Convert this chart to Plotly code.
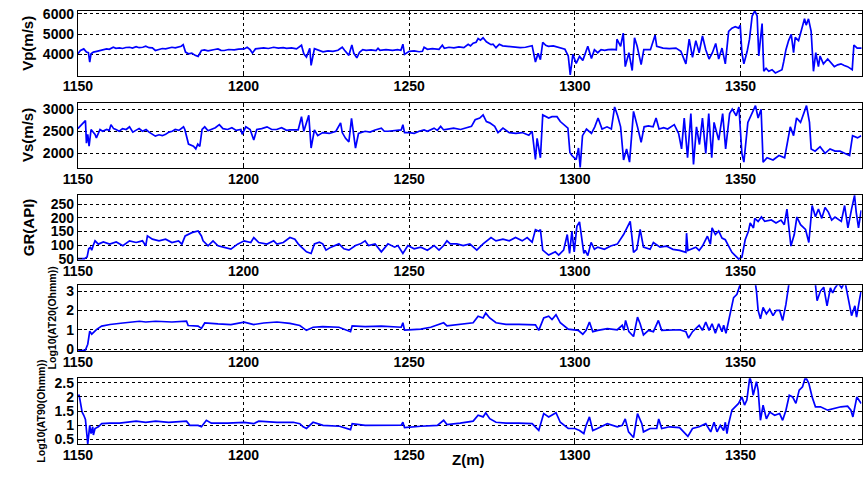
import plotly.graph_objects as go

# ---- well-log curves as (depth m, value) pairs ----
vp_log = [
    (1150.0, 4030), (1150.8, 4190), (1151.8, 4270), (1152.6, 4110), (1153.2, 4080), (1153.6, 3620),
    (1154.0, 4030), (1154.7, 4110), (1155.7, 4150), (1156.7, 4190), (1157.5, 4230), (1158.7, 4270),
    (1159.5, 4250), (1160.7, 4350), (1161.5, 4300), (1162.6, 4320), (1163.5, 4290), (1164.5, 4340),
    (1165.6, 4350), (1166.5, 4310), (1167.6, 4380), (1168.5, 4330), (1169.6, 4350), (1170.5, 4400),
    (1171.5, 4330), (1172.5, 4320), (1173.4, 4190), (1174.5, 4230), (1175.5, 4290), (1176.5, 4270),
    (1177.5, 4320), (1178.4, 4350), (1179.4, 4320), (1180.4, 4380), (1181.2, 4400), (1181.8, 4480),
    (1182.5, 4110), (1183.4, 4030), (1184.4, 4060), (1185.4, 3950), (1186.3, 3900), (1187.3, 4190),
    (1188.2, 4220), (1189.3, 4170), (1190.4, 4190), (1191.3, 4240), (1192.3, 4270), (1193.2, 4200),
    (1194.2, 4190), (1195.5, 4240), (1197.2, 4220), (1198.5, 4260), (1200.2, 4270), (1201.1, 4350),
    (1202.0, 4230), (1202.7, 4060), (1203.6, 4270), (1204.8, 4300), (1206.1, 4320), (1207.5, 4290),
    (1209.1, 4350), (1210.5, 4310), (1212.0, 4330), (1213.0, 4300), (1214.5, 4320), (1216.0, 4270),
    (1217.5, 4450), (1218.2, 4030), (1219.0, 3870), (1220.0, 4300), (1220.4, 3450), (1221.4, 4280),
    (1222.5, 4200), (1224.0, 4120), (1225.5, 4170), (1227.0, 4150), (1228.5, 4200), (1229.8, 4350),
    (1230.5, 4200), (1231.8, 3950), (1232.7, 4470), (1233.3, 4050), (1234.2, 3830), (1235.0, 4100),
    (1236.0, 4230), (1237.0, 4200), (1238.5, 4220), (1240.0, 4190), (1240.6, 4300), (1241.2, 4200),
    (1243.0, 4230), (1245.0, 4200), (1246.5, 4230), (1247.5, 4200), (1248.1, 4500), (1248.6, 4000),
    (1250.0, 4150), (1251.5, 4170), (1253.0, 4130), (1254.0, 4150), (1254.5, 4350), (1255.5, 4250),
    (1257.0, 4280), (1259.0, 4250), (1260.0, 4450), (1260.6, 4300), (1262.0, 4350), (1263.5, 4320),
    (1265.0, 4370), (1266.5, 4330), (1267.8, 4500), (1268.5, 4420), (1269.3, 4550), (1270.2, 4600),
    (1270.8, 4780), (1271.5, 4700), (1272.3, 4820), (1273.3, 4620), (1274.7, 4480), (1275.3, 4500),
    (1276.2, 4330), (1277.2, 4500), (1278.2, 4420), (1279.2, 4400), (1280.5, 4380), (1282.1, 4350),
    (1283.5, 4330), (1285.1, 4350), (1287.1, 4430), (1288.1, 3620), (1288.9, 4050), (1289.6, 3740),
    (1290.3, 4600), (1291.2, 4450), (1292.0, 4400), (1293.5, 4420), (1295.0, 4350), (1296.0, 4320),
    (1297.0, 4250), (1298.0, 3920), (1298.6, 2980), (1299.4, 4000), (1300.4, 3550), (1301.4, 3900),
    (1302.4, 3700), (1303.9, 4400), (1305.0, 3800), (1305.9, 4230), (1306.9, 4080), (1307.9, 4230),
    (1309.0, 4200), (1310.0, 4230), (1311.2, 4250), (1312.5, 4230), (1312.7, 4750), (1313.8, 4400),
    (1314.6, 5050), (1315.2, 3390), (1316.3, 4080), (1317.3, 3200), (1318.0, 4820), (1318.8, 4400),
    (1320.0, 3490), (1320.8, 4230), (1322.8, 4230), (1324.2, 4950), (1324.7, 4400), (1326.6, 4310),
    (1328.5, 4280), (1330.5, 4310), (1332.0, 4150), (1333.5, 3530), (1334.5, 4750), (1335.5, 3850),
    (1336.5, 4680), (1337.5, 4080), (1338.5, 4910), (1339.5, 4230), (1340.5, 3770), (1341.5, 4080),
    (1342.5, 4540), (1343.4, 3770), (1344.4, 4310), (1345.4, 3530), (1346.4, 5140), (1347.4, 5300),
    (1348.4, 5370), (1349.4, 5300), (1349.9, 5450), (1350.4, 4080), (1351.0, 3530), (1352.0, 4150),
    (1352.7, 4750), (1353.5, 5900), (1354.3, 6150), (1355.0, 5900), (1355.5, 3920), (1356.0, 4750),
    (1356.5, 5530), (1357.0, 3160), (1357.7, 3310), (1358.5, 3160), (1359.5, 3240), (1360.5, 3080),
    (1361.5, 3150), (1362.5, 3240), (1363.0, 3620), (1363.7, 4230), (1364.5, 4680), (1365.3, 4990),
    (1366.0, 4080), (1366.5, 4840), (1367.5, 4680), (1368.5, 5220), (1369.3, 5760), (1369.8, 5450),
    (1370.5, 5760), (1371.3, 5140), (1372.0, 3160), (1372.7, 4080), (1373.5, 3390), (1374.0, 3920),
    (1375.0, 3530), (1376.3, 3770), (1377.3, 3550), (1378.3, 3390), (1379.3, 3480), (1380.3, 3530),
    (1381.3, 3450), (1382.3, 3390), (1383.7, 3240), (1384.2, 4460), (1385.2, 4310), (1386.7, 4310),
]

vs_log = [
    (1150.0, 2560), (1150.8, 2630), (1151.5, 2670), (1152.3, 2740), (1152.6, 2230), (1153.0, 2430),
    (1153.4, 2160), (1154.0, 2540), (1155.2, 2430), (1155.6, 2350), (1156.7, 2540), (1157.5, 2500),
    (1158.7, 2540), (1159.5, 2520), (1160.0, 2650), (1160.8, 2560), (1161.5, 2540), (1162.5, 2500),
    (1163.5, 2560), (1164.6, 2540), (1165.6, 2600), (1166.6, 2480), (1167.5, 2520), (1168.5, 2560),
    (1169.5, 2500), (1170.6, 2540), (1171.5, 2480), (1172.5, 2430), (1173.4, 2390), (1174.5, 2420),
    (1175.5, 2400), (1176.5, 2430), (1177.5, 2480), (1178.5, 2500), (1179.4, 2540), (1180.5, 2520),
    (1181.9, 2600), (1182.3, 2540), (1183.4, 2210), (1184.9, 2160), (1185.6, 2100), (1186.2, 2210),
    (1186.8, 2155), (1187.5, 2540), (1188.3, 2600), (1189.3, 2510), (1190.3, 2540), (1191.5, 2580),
    (1192.7, 2650), (1193.8, 2560), (1195.2, 2540), (1196.5, 2580), (1197.8, 2520), (1199.2, 2540),
    (1199.6, 2430), (1200.7, 2600), (1202.0, 2540), (1203.1, 2300), (1204.0, 2540), (1205.5, 2560),
    (1207.1, 2600), (1208.5, 2540), (1210.0, 2540), (1211.5, 2580), (1213.0, 2520), (1214.0, 2530),
    (1216.5, 2530), (1217.5, 2830), (1218.2, 2500), (1219.7, 2860), (1220.4, 2120), (1221.4, 2530),
    (1222.4, 2400), (1223.9, 2470), (1225.9, 2450), (1227.9, 2500), (1229.3, 2690), (1229.8, 2470),
    (1230.8, 2340), (1231.8, 2260), (1232.6, 2790), (1233.3, 2450), (1233.8, 2120), (1234.7, 2450),
    (1236.7, 2500), (1238.2, 2480), (1239.7, 2530), (1241.6, 2570), (1242.5, 2500), (1243.6, 2500),
    (1245.5, 2520), (1247.6, 2530), (1248.1, 2650), (1248.6, 2470), (1250.0, 2470), (1251.5, 2450),
    (1253.0, 2500), (1254.5, 2530), (1255.5, 2500), (1257.5, 2570), (1258.5, 2520), (1259.5, 2610),
    (1260.4, 2530), (1262.0, 2560), (1263.4, 2570), (1265.5, 2540), (1267.3, 2570), (1268.8, 2610),
    (1269.9, 2760), (1271.3, 2800), (1272.3, 2870), (1273.3, 2720), (1274.3, 2690), (1275.8, 2610),
    (1276.8, 2470), (1278.3, 2570), (1280.2, 2470), (1282.2, 2450), (1284.1, 2470), (1286.1, 2410),
    (1287.1, 2500), (1288.1, 1860), (1288.6, 2340), (1289.6, 1900), (1290.3, 2870), (1292.1, 2800),
    (1293.1, 2830), (1294.6, 2830), (1295.6, 2720), (1296.6, 2650), (1297.9, 2570), (1298.5, 2020),
    (1299.1, 1950), (1300.4, 1860), (1301.1, 2120), (1301.6, 1680), (1302.3, 2400), (1303.5, 2550),
    (1305.0, 2450), (1306.0, 2600), (1307.0, 2800), (1308.2, 2550), (1309.7, 2600), (1311.0, 2550),
    (1312.0, 3050), (1312.9, 2850), (1313.8, 2600), (1314.7, 1850), (1315.6, 2100), (1316.5, 1800),
    (1317.7, 2950), (1318.9, 2600), (1320.0, 2250), (1320.9, 2600), (1322.2, 2620), (1323.6, 2600),
    (1324.5, 2800), (1325.4, 2550), (1326.8, 2580), (1328.0, 2550), (1330.0, 2650), (1331.3, 2450),
    (1332.2, 2100), (1333.0, 2800), (1334.0, 1900), (1335.0, 2900), (1335.8, 1750), (1336.7, 2600),
    (1337.6, 2200), (1338.5, 2800), (1339.5, 2000), (1340.4, 2900), (1341.3, 1900), (1342.0, 2700),
    (1343.4, 2300), (1344.6, 2900), (1345.5, 2100), (1346.7, 2900), (1347.5, 3000), (1348.7, 2850),
    (1349.5, 3050), (1350.4, 2000), (1351.0, 1800), (1352.2, 2700), (1353.3, 2900), (1354.5, 3080),
    (1355.3, 2800), (1356.2, 3000), (1356.8, 1800), (1358.0, 1900), (1359.8, 1850), (1361.6, 1950),
    (1363.3, 1900), (1365.0, 2600), (1366.0, 2400), (1366.9, 2800), (1368.1, 2700), (1369.0, 2900),
    (1369.9, 3080), (1370.8, 2700), (1371.3, 2100), (1372.5, 2050), (1374.0, 2150), (1375.5, 2000),
    (1377.0, 2100), (1378.5, 2050), (1380.0, 2050), (1381.4, 2000), (1382.9, 1950), (1383.8, 2400),
    (1385.3, 2350), (1386.4, 2400),
]

gr_log = [
    (1150.0, 51), (1152.0, 51), (1152.8, 57), (1153.3, 87), (1153.8, 92), (1154.2, 82), (1154.7, 101),
    (1155.2, 116), (1156.2, 104), (1157.7, 112), (1159.6, 104), (1161.6, 112), (1163.6, 98), (1165.6, 116),
    (1167.6, 110), (1169.5, 116), (1170.5, 98), (1171.0, 134), (1172.5, 122), (1174.5, 116), (1176.5, 122),
    (1178.4, 110), (1180.4, 116), (1181.4, 104), (1182.4, 134), (1184.4, 146), (1186.3, 152), (1187.3, 134),
    (1187.8, 116), (1189.3, 98), (1190.8, 116), (1192.3, 98), (1194.2, 92), (1196.2, 86), (1198.2, 104),
    (1200.2, 116), (1202.2, 110), (1203.1, 128), (1204.6, 110), (1207.1, 104), (1209.1, 116), (1210.1, 104),
    (1212.0, 110), (1213.5, 122), (1214.0, 128), (1215.5, 122), (1216.5, 105), (1217.5, 93), (1219.0, 76),
    (1220.4, 70), (1221.4, 105), (1222.9, 111), (1223.9, 105), (1224.9, 82), (1226.4, 93), (1228.8, 105),
    (1230.3, 87), (1231.8, 82), (1233.8, 99), (1235.3, 105), (1236.7, 116), (1237.7, 99), (1239.7, 105),
    (1241.6, 76), (1243.6, 105), (1245.6, 93), (1246.6, 99), (1248.1, 70), (1249.6, 99), (1251.5, 87),
    (1253.5, 93), (1255.5, 82), (1257.5, 99), (1259.0, 82), (1260.4, 99), (1261.4, 116), (1262.4, 105),
    (1264.4, 105), (1266.3, 99), (1268.3, 105), (1270.4, 82), (1272.3, 105), (1273.3, 116), (1274.7, 128),
    (1276.2, 116), (1278.3, 122), (1280.2, 116), (1282.1, 128), (1284.1, 116), (1285.6, 128), (1287.1, 111),
    (1288.1, 157), (1289.1, 151), (1289.6, 157), (1290.3, 82), (1292.1, 64), (1294.1, 76), (1295.1, 64),
    (1296.6, 82), (1297.7, 139), (1298.4, 70), (1299.1, 151), (1299.8, 76), (1300.6, 169), (1301.4, 185),
    (1302.0, 139), (1302.7, 70), (1303.1, 81), (1303.9, 62), (1304.9, 110), (1305.9, 85), (1306.9, 93),
    (1308.9, 85), (1310.8, 97), (1312.8, 104), (1314.7, 139), (1315.7, 163), (1316.7, 187), (1317.2, 133),
    (1317.7, 74), (1318.7, 85), (1319.7, 158), (1320.7, 93), (1322.7, 85), (1323.7, 110), (1325.7, 93),
    (1327.6, 97), (1329.6, 85), (1331.6, 81), (1333.5, 74), (1333.7, 144), (1334.1, 81), (1336.5, 93),
    (1337.5, 81), (1338.5, 97), (1340.0, 133), (1340.9, 104), (1341.4, 163), (1342.4, 139), (1343.4, 152),
    (1344.4, 126), (1345.4, 120), (1346.4, 97), (1347.4, 74), (1348.4, 62), (1349.4, 50), (1350.4, 56),
    (1351.4, 120), (1352.4, 152), (1352.9, 181), (1353.9, 163), (1354.3, 198), (1355.3, 187), (1356.3, 203),
    (1357.3, 187), (1359.3, 192), (1360.7, 181), (1362.2, 192), (1363.2, 175), (1364.0, 232), (1364.7, 152),
    (1365.2, 97), (1366.2, 139), (1367.0, 203), (1368.1, 175), (1369.6, 158), (1370.6, 110), (1371.6, 245),
    (1372.6, 204), (1373.5, 232), (1374.5, 198), (1375.5, 238), (1376.5, 221), (1377.5, 192), (1378.5, 203),
    (1380.4, 187), (1381.4, 245), (1382.0, 203), (1382.4, 163), (1383.5, 232), (1384.4, 282), (1384.9, 221),
    (1385.6, 163), (1386.4, 227),
]

at20_log = [
    (1150.0, -0.10), (1152.3, -0.05), (1153.0, 0.25), (1153.6, 0.93), (1154.2, 0.77), (1154.7, 0.85),
    (1155.7, 1.02), (1157.2, 1.19), (1159.7, 1.27), (1163.6, 1.35), (1168.6, 1.44), (1170.5, 1.40),
    (1173.5, 1.44), (1178.4, 1.40), (1182.8, 1.44), (1183.3, 1.22), (1186.3, 1.19), (1187.3, 1.07),
    (1188.3, 1.35), (1192.3, 1.30), (1196.2, 1.27), (1200.2, 1.39), (1203.1, 1.27), (1206.1, 1.35),
    (1210.1, 1.40), (1214.0, 1.33), (1217.0, 1.22), (1219.0, 0.97), (1221.0, 1.13), (1223.9, 1.16),
    (1228.8, 1.13), (1232.3, 0.90), (1232.8, 1.20), (1236.7, 1.16), (1241.6, 1.19), (1247.6, 1.13),
    (1248.1, 1.36), (1248.6, 0.98), (1253.5, 1.03), (1256.5, 1.13), (1260.4, 1.36), (1261.4, 1.20),
    (1265.4, 1.28), (1269.3, 1.36), (1270.8, 1.70), (1272.3, 1.61), (1273.1, 1.86), (1274.3, 1.61),
    (1276.2, 1.36), (1279.2, 1.28), (1283.1, 1.28), (1288.1, 1.25), (1289.1, 0.97), (1290.6, 1.61),
    (1292.1, 1.70), (1293.1, 1.53), (1294.3, 1.78), (1295.6, 1.36), (1298.0, 1.03), (1300.0, 1.00),
    (1301.0, 0.97), (1302.4, 0.77), (1303.4, 0.97), (1304.4, 1.40), (1305.4, 0.90), (1306.9, 0.97),
    (1309.8, 1.06), (1312.8, 1.00), (1314.3, 1.23), (1314.8, 0.97), (1315.3, 1.48), (1316.3, 0.90),
    (1317.7, 0.65), (1318.9, 1.65), (1319.7, 1.31), (1320.7, 0.73), (1322.2, 0.97), (1323.7, 0.90),
    (1325.2, 1.48), (1326.2, 0.97), (1328.6, 0.97), (1331.6, 1.00), (1333.5, 0.90), (1334.3, 0.57),
    (1335.5, 0.90), (1337.5, 1.23), (1338.5, 0.97), (1339.5, 1.40), (1340.5, 0.97), (1341.4, 1.31),
    (1342.4, 0.82), (1343.4, 1.31), (1344.4, 0.90), (1344.9, 1.23), (1345.6, 0.82), (1346.4, 1.48),
    (1347.4, 2.32), (1347.9, 2.66), (1348.9, 2.83), (1349.4, 3.16), (1349.9, 3.40), (1350.6, 3.70),
    (1352.5, 3.80), (1354.3, 3.60), (1354.8, 3.00), (1355.3, 2.00), (1356.0, 1.57), (1356.8, 2.15),
    (1357.8, 1.82), (1358.8, 2.07), (1359.8, 1.73), (1360.8, 2.00), (1361.8, 2.00), (1362.7, 1.48),
    (1363.7, 2.32), (1364.4, 3.16), (1364.7, 3.50), (1367.0, 3.80), (1370.0, 3.70), (1372.6, 3.33),
    (1373.1, 2.50), (1374.1, 3.00), (1375.1, 3.20), (1376.1, 2.23), (1377.1, 3.16), (1377.8, 2.90),
    (1378.5, 3.16), (1379.5, 3.40), (1380.5, 3.16), (1381.5, 3.50), (1382.5, 2.66), (1383.5, 1.73),
    (1384.5, 2.24), (1385.0, 1.65), (1386.0, 2.66), (1386.4, 3.00),
]

at90_log = [
    (1150.0, 2.06), (1150.4, 2.06), (1150.8, 1.80), (1151.3, 1.46), (1151.8, 1.35), (1152.3, 1.20),
    (1153.0, 0.33), (1153.6, 0.99), (1154.0, 0.70), (1154.5, 0.94), (1154.7, 0.65), (1155.2, 0.88),
    (1156.2, 0.94), (1157.2, 1.05), (1159.7, 1.07), (1162.6, 1.07), (1167.6, 1.14), (1170.5, 1.10),
    (1173.5, 1.14), (1177.4, 1.10), (1182.8, 1.14), (1183.8, 0.99), (1186.3, 0.99), (1187.3, 0.94),
    (1188.8, 1.17), (1190.3, 1.07), (1195.2, 1.07), (1200.2, 1.10), (1203.1, 1.05), (1204.6, 1.14),
    (1210.1, 1.10), (1215.0, 1.10), (1217.0, 1.05), (1218.0, 0.94), (1219.0, 0.88), (1221.0, 1.10),
    (1224.0, 0.99), (1229.0, 0.96), (1232.3, 0.84), (1232.8, 1.05), (1236.7, 0.99), (1241.6, 0.99),
    (1247.6, 1.00), (1248.1, 1.10), (1248.6, 0.91), (1253.5, 0.96), (1258.5, 0.99), (1260.4, 1.17),
    (1261.4, 1.02), (1265.4, 1.07), (1269.3, 1.14), (1270.8, 1.35), (1272.3, 1.29), (1273.1, 1.44),
    (1274.3, 1.23), (1276.2, 1.10), (1279.2, 1.07), (1283.1, 1.07), (1287.1, 1.05), (1289.1, 0.81),
    (1290.6, 1.41), (1292.1, 1.29), (1293.1, 1.35), (1294.3, 1.44), (1295.6, 1.10), (1298.0, 0.88),
    (1300.0, 0.88), (1301.4, 0.81), (1302.7, 0.70), (1303.4, 0.99), (1304.4, 1.29), (1305.4, 0.81),
    (1306.8, 0.88), (1309.8, 1.05), (1312.8, 0.94), (1314.3, 0.99), (1315.2, 1.22), (1316.2, 0.76),
    (1317.7, 0.56), (1318.9, 1.41), (1320.2, 1.05), (1320.7, 0.76), (1322.7, 0.88), (1324.7, 0.88),
    (1325.3, 1.22), (1326.2, 0.88), (1328.6, 0.94), (1331.6, 0.91), (1334.1, 0.60), (1335.5, 0.88),
    (1337.5, 0.94), (1339.5, 1.05), (1341.0, 0.76), (1342.0, 1.10), (1342.9, 0.76), (1343.9, 0.99),
    (1344.9, 0.81), (1345.4, 1.10), (1345.9, 0.70), (1346.4, 1.05), (1347.4, 1.53), (1348.4, 1.65),
    (1349.4, 1.77), (1350.4, 2.00), (1351.2, 1.71), (1351.9, 1.89), (1352.8, 2.71), (1353.3, 2.48),
    (1353.8, 2.06), (1354.8, 2.54), (1355.3, 2.24), (1356.0, 1.17), (1356.8, 1.71), (1357.8, 1.22),
    (1358.8, 1.46), (1360.3, 1.35), (1361.8, 1.41), (1362.7, 1.17), (1363.7, 1.53), (1364.7, 2.06),
    (1365.7, 2.00), (1366.7, 1.77), (1367.7, 2.24), (1368.7, 2.36), (1369.6, 2.71), (1370.6, 2.48),
    (1371.6, 2.00), (1372.6, 1.65), (1374.1, 1.65), (1376.3, 1.53), (1378.3, 1.59), (1380.3, 1.65),
    (1382.3, 1.67), (1383.3, 1.53), (1383.9, 1.29), (1384.6, 1.65), (1385.1, 2.00), (1386.4, 1.77),
]

x_ticks = [1150, 1200, 1250, 1300, 1350]
x_range = [1150, 1386.5]

# panel definitions: curve, axis title, tick values, tick text, y-range,
# pixel box (top, bottom), title x position, title font size
panels = [
    (vp_log, "Vp(m/s)", [4000, 5000, 6000], ["4000", "5000", "6000"], [2950, 6170], (5.7, 72.3), 12, 15),
    (vs_log, "Vs(m/s)", [2000, 2500, 3000], ["2000", "2500", "3000"], [1670, 3150], (100.0, 167.0), 12, 15),
    (gr_log, "GR(API)", [50, 100, 150, 200, 250], ["50", "100", "150", "200", "250"], [45, 285], (194.3, 261.7), 14, 15),
    (at20_log, "Log10(AT20(Ohmm))", [0, 1, 2, 3], ["0", "1", "2", "3"], [-0.1, 3.3], (287.3, 354.7), 38, 10.5),
    (at90_log, "Log10(AT90(Ohmm))", [0.5, 1, 1.5, 2, 2.5], ["0.5", "1", "1.5", "2", "2.5"], [0.33, 2.66], (382.7, 450.0), 27, 10.5),
]

W, H = 863, 490
FONT = "Liberation Sans, Arial, sans-serif"
x_dom = [64 / W, 862.5 / W]

fig = go.Figure()
layout = dict(
    width=W, height=H,
    margin=dict(l=0, r=0, t=0, b=0),
    paper_bgcolor="white", plot_bgcolor="white",
    showlegend=False,
)
annotations = []

for i, (curve, label, tv, tt, yr, (top, bot), lx, lsize) in enumerate(panels, start=1):
    xa = "x" if i == 1 else f"x{i}"
    ya = "y" if i == 1 else f"y{i}"
    depth = [p[0] for p in curve]
    value = [p[1] for p in curve]
    fig.add_trace(go.Scatter(x=depth, y=value, mode="lines", xaxis=xa, yaxis=ya,
                             line=dict(color="#0000ff", width=1.7), hoverinfo="skip"))
    common = dict(showline=True, linecolor="black", linewidth=1, mirror="allticks",
                  ticks="inside", ticklen=4, tickcolor="black",
                  showgrid=True, gridcolor="black", gridwidth=1, griddash="3px,3px",
                  zeroline=False,
                  tickfont=dict(family=FONT, size=14, color="black", weight="bold"))
    layout["xaxis" if i == 1 else f"xaxis{i}"] = dict(
        common, domain=x_dom, range=x_range, anchor=ya, ticklabelstandoff=-2,
        tickmode="array", tickvals=x_ticks, ticktext=[str(t) for t in x_ticks])
    layout["yaxis" if i == 1 else f"yaxis{i}"] = dict(
        common, domain=[1 - bot / H, 1 - top / H], range=yr, anchor=xa,
        tickmode="array", tickvals=tv, ticktext=tt)
    annotations.append(dict(
        text=label, textangle=-90, xref="paper", yref="paper",
        x=lx / W, y=1 - ((top + bot) / 2) / H, xanchor="center", yanchor="middle",
        showarrow=False, font=dict(family=FONT, size=lsize, color="black", weight="bold")))

annotations.append(dict(
    text="Z(m)", xref="paper", yref="paper", x=462 / W, y=1 - 466 / H,
    xanchor="center", yanchor="middle", showarrow=False,
    font=dict(family=FONT, size=15, color="black", weight="bold")))

layout["annotations"] = annotations
fig.update_layout(**layout)
fig.write_html("out.html")
